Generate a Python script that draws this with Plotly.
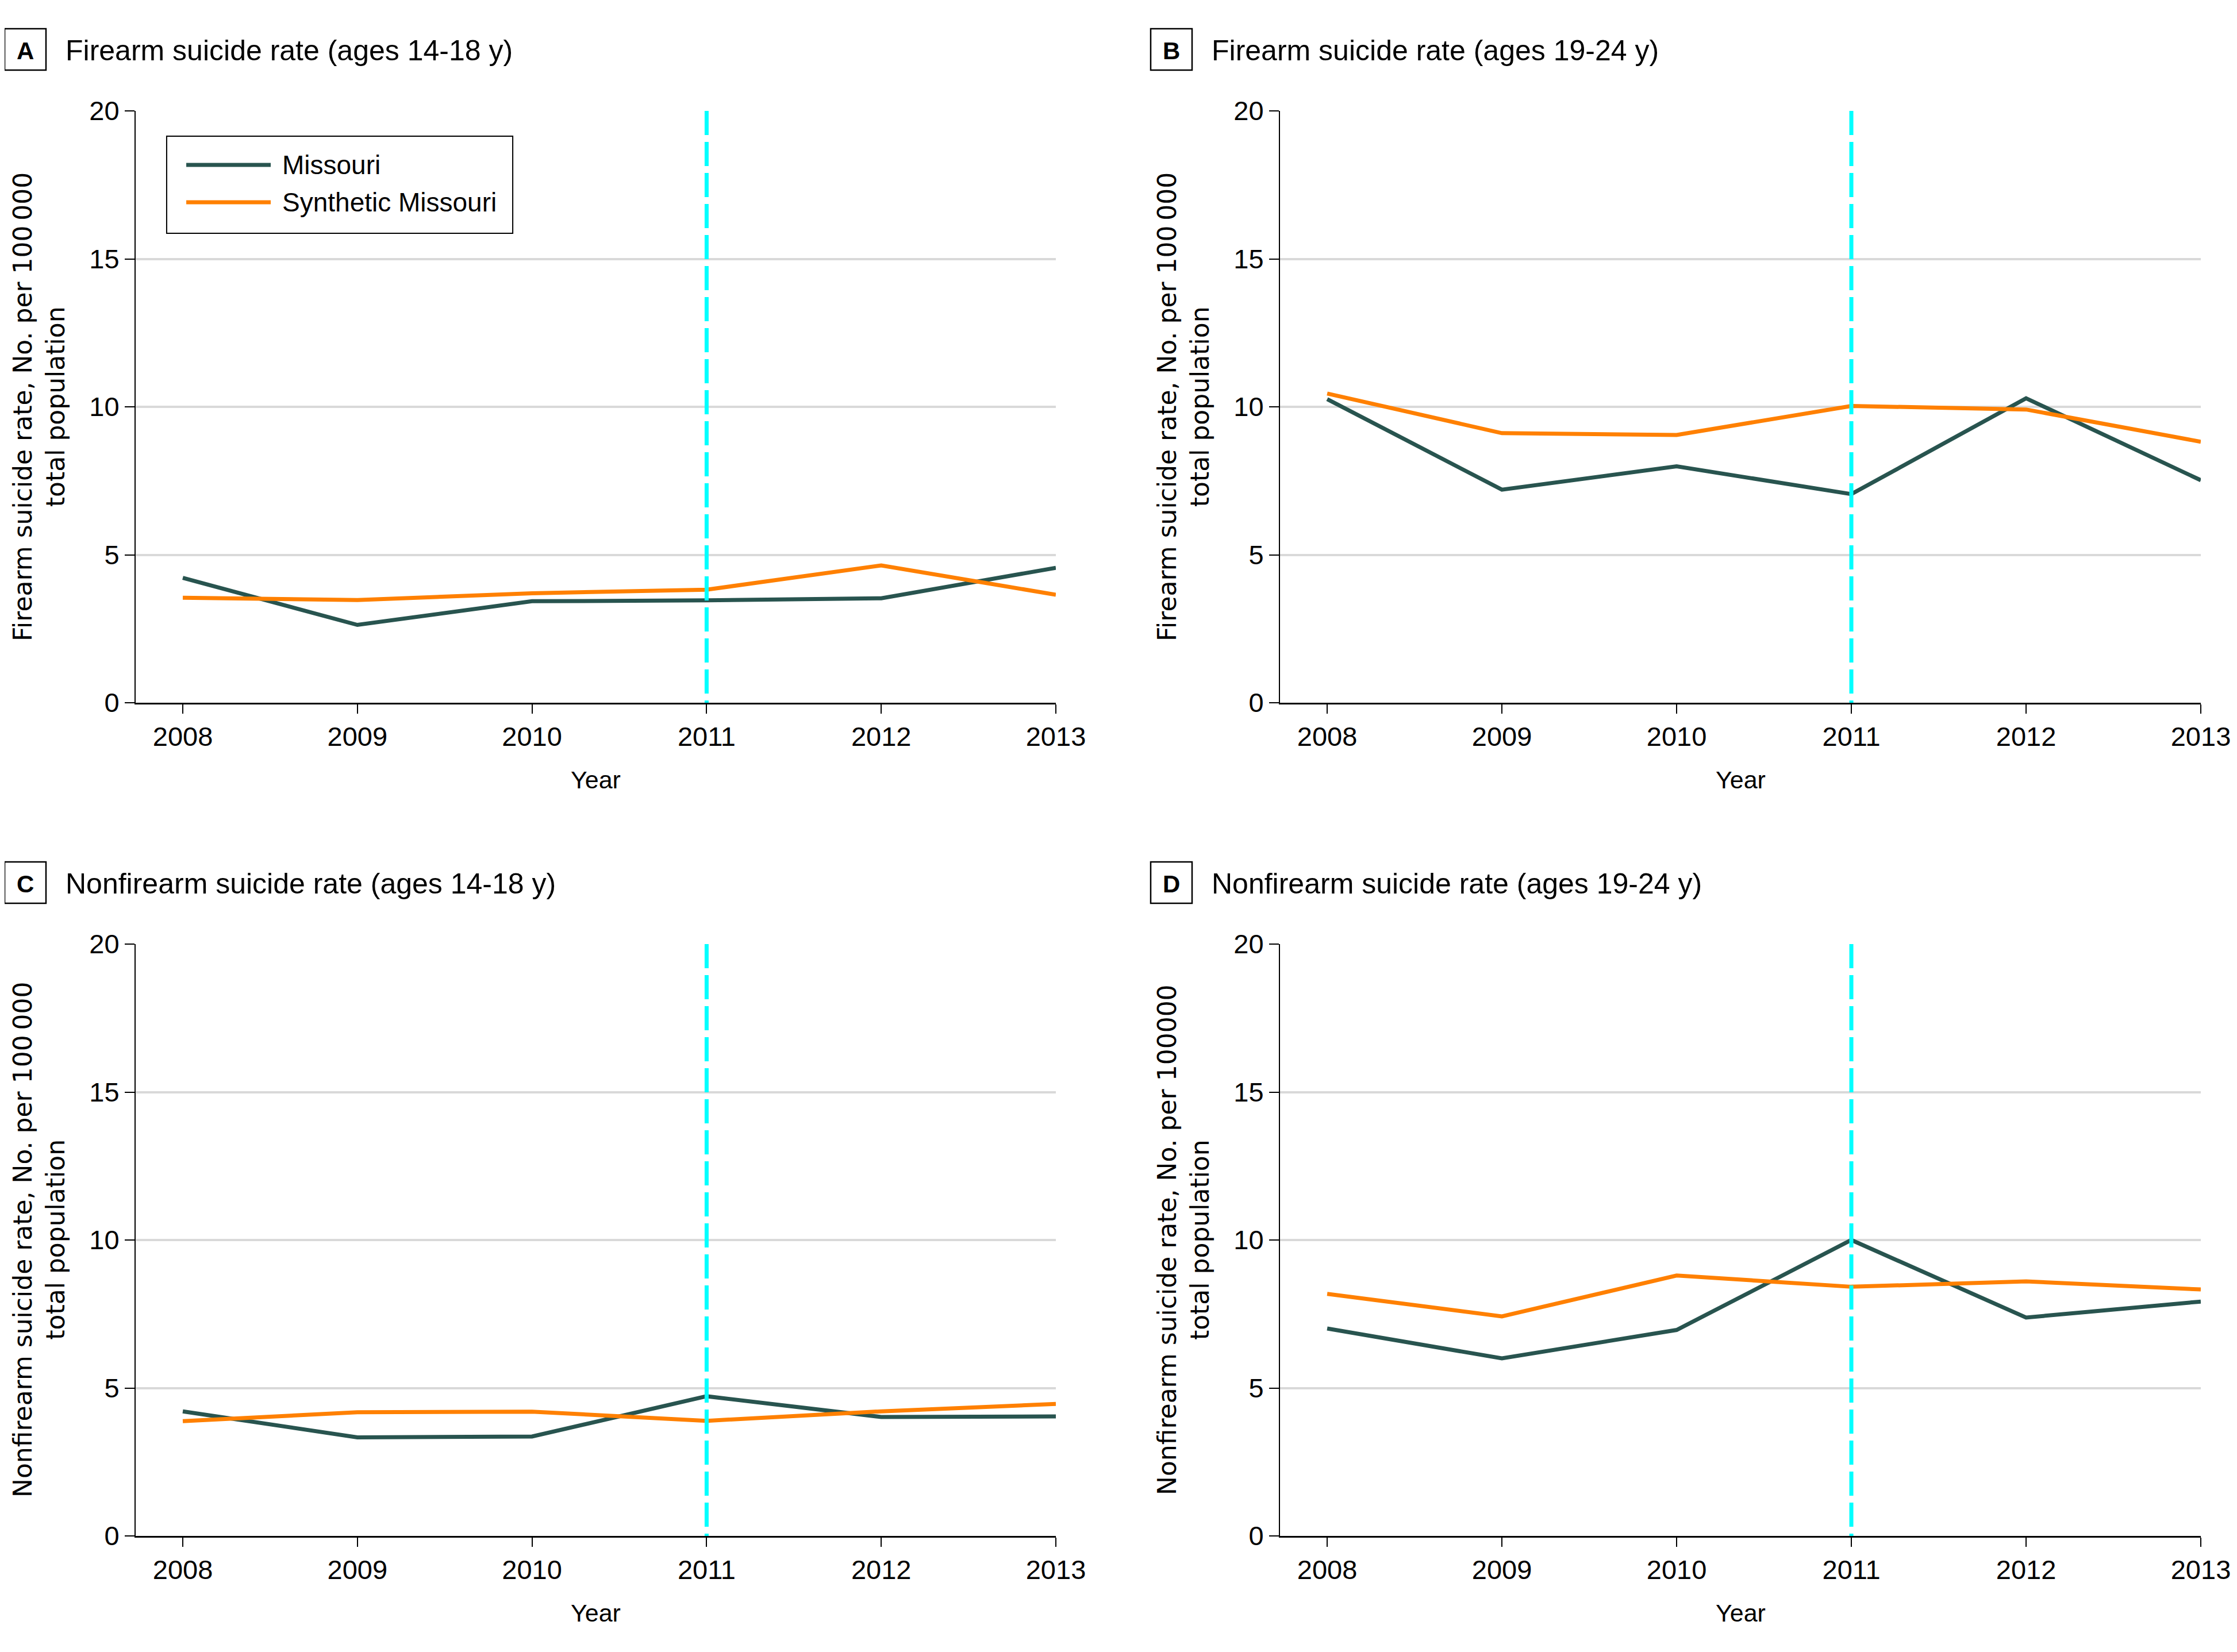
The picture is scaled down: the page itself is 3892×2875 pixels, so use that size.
import plotly.graph_objects as go

# ---------------- data ----------------
YEARS = [2008, 2009, 2010, 2011, 2012, 2013]
INTERVENTION_YEAR = 2011
Y_TICKS = [0, 5, 10, 15, 20]

A_MISSOURI = [4.22, 2.63, 3.43, 3.46, 3.53, 4.56]
A_SYNTHETIC = [3.55, 3.47, 3.70, 3.82, 4.64, 3.65]

B_MISSOURI = [10.26, 7.20, 7.99, 7.05, 10.29, 7.52]
B_SYNTHETIC = [10.45, 9.11, 9.05, 10.03, 9.91, 8.82]

C_MISSOURI = [4.21, 3.33, 3.36, 4.72, 4.02, 4.04]
C_SYNTHETIC = [3.88, 4.18, 4.20, 3.89, 4.21, 4.46]

D_MISSOURI = [7.01, 6.00, 6.96, 10.00, 7.38, 7.92]
D_SYNTHETIC = [8.18, 7.42, 8.80, 8.42, 8.60, 8.33]

PANEL_LETTERS = ["A", "B", "C", "D"]
PANEL_TITLES = [
    "Firearm suicide rate (ages 14-18 y)",
    "Firearm suicide rate (ages 19-24 y)",
    "Nonfirearm suicide rate (ages 14-18 y)",
    "Nonfirearm suicide rate (ages 19-24 y)",
]
Y_TITLES = [
    "Firearm suicide rate, No. per 100\u2009000<br>total population",
    "Firearm suicide rate, No. per 100\u2009000<br>total population",
    "Nonfirearm suicide rate, No. per 100\u2009000<br>total population",
    "Nonfirearm suicide rate, No. per 100000<br>total population",
]
X_TITLE = "Year"
SERIES_NAMES = ["Missouri", "Synthetic Missouri"]
MISSOURI = [A_MISSOURI, B_MISSOURI, C_MISSOURI, D_MISSOURI]
SYNTHETIC = [A_SYNTHETIC, B_SYNTHETIC, C_SYNTHETIC, D_SYNTHETIC]

# ---------------- style ----------------
W, H = 3892, 2875
PAGE_OFFSET = 8  # browser body margin
TEAL = "#28544F"
ORANGE = "#FF8000"
CYAN = "#00FFFF"
GRID = "#D9D9D9"
TICK_FONT = dict(family="Liberation Sans, Arial, sans-serif", size=47, color="black")
TITLE_FONT = dict(family="Liberation Sans, Arial, sans-serif", size=50, color="black")
LETTER_FONT = dict(family="Liberation Sans, Arial, sans-serif", size=42, color="black")
YTITLE_FONT = dict(family="DejaVu Sans, Verdana, sans-serif", size=44, color="black")
LEGEND_FONT = dict(family="Liberation Sans, Arial, sans-serif", size=46, color="black")
XTITLE_FONT = dict(family="Liberation Sans, Arial, sans-serif", size=43, color="black")

# pixel layout of the panels on the page (left, right, top, bottom)
COL_X = [(236, 1837), (2227, 3829)]
ROW_Y = [(193, 1223), (1643, 2673)]
X_MIN = 2007.73


def px_x(v):
    return (v - PAGE_OFFSET) / W


def px_y(v):
    return 1 - (v - PAGE_OFFSET) / H


fig = go.Figure()
annotations = []
shapes = []

for i in range(4):
    r, c = divmod(i, 2)
    n = i + 1
    xa = "x" if n == 1 else f"x{n}"
    ya = "y" if n == 1 else f"y{n}"
    xl, xr = COL_X[c]
    yt, yb = ROW_Y[r]

    fig.add_trace(go.Scatter(
        x=YEARS, y=MISSOURI[i], mode="lines", name=SERIES_NAMES[0],
        line=dict(color=TEAL, width=7), xaxis=xa, yaxis=ya, showlegend=False))
    fig.add_trace(go.Scatter(
        x=YEARS, y=SYNTHETIC[i], mode="lines", name=SERIES_NAMES[1],
        line=dict(color=ORANGE, width=7), xaxis=xa, yaxis=ya, showlegend=False))

    xkey = "xaxis" if n == 1 else f"xaxis{n}"
    ykey = "yaxis" if n == 1 else f"yaxis{n}"
    fig.update_layout({
        xkey: dict(
            domain=[px_x(xl), px_x(xr)], anchor=ya, range=[X_MIN, YEARS[-1]],
            tickmode="array", tickvals=YEARS, ticktext=[str(y) for y in YEARS],
            ticks="outside", ticklen=16, tickwidth=2, tickcolor="black",
            showline=True, linewidth=3, linecolor="black",
            showgrid=False, zeroline=False, tickfont=TICK_FONT,
            automargin=False, fixedrange=True),
        ykey: dict(
            domain=[px_y(yb), px_y(yt)], anchor=xa, range=[Y_TICKS[0], Y_TICKS[-1]],
            tickmode="array", tickvals=Y_TICKS,
            ticks="outside", ticklen=17, tickwidth=2, tickcolor="black",
            showline=True, linewidth=2, linecolor="black",
            showgrid=True, gridcolor=GRID, gridwidth=4, zeroline=False,
            tickfont=TICK_FONT, automargin=False, fixedrange=True),
    })

    # intervention line
    shapes.append(dict(
        type="line", xref=xa, yref=f"{ya} domain", x0=INTERVENTION_YEAR, x1=INTERVENTION_YEAR,
        y0=1, y1=0, line=dict(color=CYAN, width=7, dash="42px,12px"), layer="above"))

    # panel letter box and title
    box_left = 8 if c == 0 else 2002
    box_top = yt - 143
    shapes.append(dict(
        type="rect", xref="paper", yref="paper",
        x0=px_x(box_left), x1=px_x(box_left + 72), y0=px_y(box_top), y1=px_y(box_top + 72),
        line=dict(color="black", width=2.5), fillcolor="rgba(0,0,0,0)"))
    annotations.append(dict(
        text=f"<b>{PANEL_LETTERS[i]}</b>", xref="paper", yref="paper",
        x=px_x(box_left + 36), y=px_y(box_top + 38), xanchor="center", yanchor="middle",
        showarrow=False, font=LETTER_FONT))
    annotations.append(dict(
        text=PANEL_TITLES[i], xref="paper", yref="paper",
        x=px_x(box_left + 104), y=px_y(yt - 105), xanchor="left", yanchor="middle",
        showarrow=False, font=TITLE_FONT))

    # y axis title
    annotations.append(dict(
        text=Y_TITLES[i], xref="paper", yref="paper",
        x=px_x(xl - 168), y=px_y((yt + yb) / 2), xanchor="center", yanchor="middle",
        textangle=-90, showarrow=False, font=YTITLE_FONT, align="center"))
    # x axis title
    annotations.append(dict(
        text=X_TITLE, xref=f"{xa} domain", yref="paper",
        x=0.5, y=px_y(yb + 134), xanchor="center", yanchor="middle",
        showarrow=False, font=XTITLE_FONT))

# manual legend in panel A (long line samples)
LEG = dict(x0=0.0337, x1=0.4098, y0=0.7932, y1=0.9573)
shapes.append(dict(type="rect", xref="x domain", yref="y domain",
                   x0=LEG["x0"], x1=LEG["x1"], y0=LEG["y0"], y1=LEG["y1"],
                   line=dict(color="black", width=2), fillcolor="white", layer="above"))
for name, color, yy in [(SERIES_NAMES[0], TEAL, 0.9087), (SERIES_NAMES[1], ORANGE, 0.8456)]:
    shapes.append(dict(type="line", xref="x domain", yref="y domain",
                       x0=0.0550, x1=0.1468, y0=yy, y1=yy,
                       line=dict(color=color, width=7), layer="above"))
    annotations.append(dict(text=name, xref="x domain", yref="y domain",
                            x=0.158, y=yy, xanchor="left", yanchor="middle",
                            showarrow=False, font=LEGEND_FONT))

fig.update_layout(
    width=W, height=H, margin=dict(l=0, r=0, t=0, b=0, pad=0, autoexpand=False),
    paper_bgcolor="white", plot_bgcolor="white",
    showlegend=False, shapes=shapes, annotations=annotations,
)

fig.write_html("out.html")
